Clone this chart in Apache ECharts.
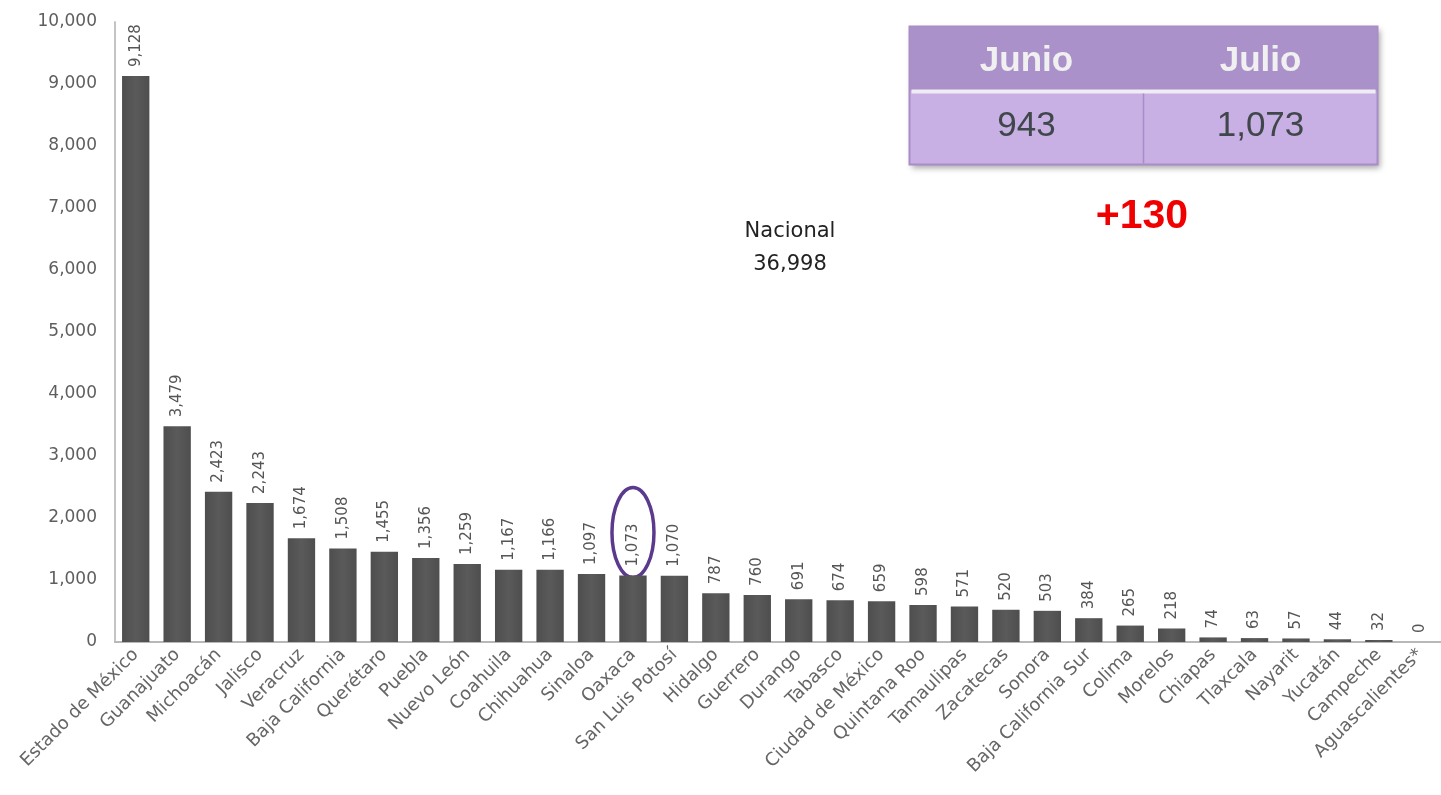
<!DOCTYPE html>
<html>
<head>
<meta charset="utf-8">
<script src="https://cdn.jsdelivr.net/npm/echarts@6/dist/echarts.min.js"></script>
<style>
  html, body { margin: 0; padding: 0; background: #fff; }
  #bar { width: 1441px; height: 795px; }
</style>
</head>
<body>
<div id="bar"></div>
<script>
// 数据
var estados = ['Estado de México', 'Guanajuato', 'Michoacán', 'Jalisco', 'Veracruz', 'Baja California',
    'Querétaro', 'Puebla', 'Nuevo León', 'Coahuila', 'Chihuahua', 'Sinaloa', 'Oaxaca', 'San Luis Potosí',
    'Hidalgo', 'Guerrero', 'Durango', 'Tabasco', 'Ciudad de México', 'Quintana Roo', 'Tamaulipas',
    'Zacatecas', 'Sonora', 'Baja California Sur', 'Colima', 'Morelos', 'Chiapas', 'Tlaxcala', 'Nayarit',
    'Yucatán', 'Campeche', 'Aguascalientes*'];
var casos = [9128, 3479, 2423, 2243, 1674, 1508, 1455, 1356, 1259, 1167, 1166, 1097, 1073, 1070,
    787, 760, 691, 674, 659, 598, 571, 520, 503, 384, 265, 218, 74, 63, 57, 44, 32, 0];
var yTicks = [0, 1000, 2000, 3000, 4000, 5000, 6000, 7000, 8000, 9000, 10000];
var meses = ['Junio', 'Julio'];
var mesValores = [943, 1073];
var diferencia = '+130';
var nacional = '36,998';

var font = 'DejaVu Sans';
var myChart = echarts.init(document.getElementById('bar'));

var option = {
    animation: false,
    grid: { left: 115, right: 0, top: 22, bottom: 153 },
    xAxis: {
        type: 'category',
        data: estados,
        axisLine: { lineStyle: { color: '#b8b8b8', width: 2 } },
        axisTick: { show: false },
        axisLabel: {
            interval: 0,
            rotate: 45,
            margin: 10,
            color: '#666',
            fontSize: 18,
            fontFamily: font
        }
    },
    yAxis: {
        type: 'value',
        min: yTicks[0],
        max: yTicks[yTicks.length - 1],
        interval: 1000,
        axisLine: { show: true, lineStyle: { color: '#c4c4c4', width: 2 } },
        axisTick: { show: false },
        splitLine: { show: false },
        axisLabel: {
            margin: 18,
            color: '#5e5e5e',
            fontSize: 17,
            fontFamily: font,
            formatter: function (v) { return v.toLocaleString('en-US'); }
        }
    },
    series: [{
        type: 'bar',
        data: casos,
        barCategoryGap: '34%',
        itemStyle: {
            color: new echarts.graphic.LinearGradient(0, 0, 1, 0, [
                { offset: 0, color: '#4e4e4e' },
                { offset: 0.5, color: '#5a5a5a' },
                { offset: 1, color: '#4e4e4e' }
            ])
        },
        label: {
            show: true,
            position: 'top',
            rotate: 90,
            align: 'left',
            verticalAlign: 'middle',
            distance: 9,
            color: '#555',
            fontSize: 15,
            fontFamily: font,
            formatter: function (p) { return p.value.toLocaleString('en-US'); }
        }
    }],
    graphic: [
        // 表格
        {
            type: 'group', left: 907, top: 24,
            children: [
                { type: 'rect', shape: { x: 0, y: 0, width: 468, height: 138 },
                  style: { fill: '#c8afe4', shadowBlur: 6, shadowOffsetX: 2, shadowOffsetY: 3, shadowColor: 'rgba(0,0,0,0.35)' } },
                { type: 'rect', shape: { x: 0, y: 0, width: 468, height: 64 }, style: { fill: '#ab91c9' } },
                { type: 'rect', shape: { x: 2, y: 63, width: 464, height: 4 }, style: { fill: '#f0ecf4' } },
                { type: 'line', shape: { x1: 234, y1: 67, x2: 234, y2: 137 }, style: { stroke: '#a98dc8', lineWidth: 1.5 } },
                { type: 'rect', shape: { x: 0, y: 0, width: 468, height: 138 }, style: { fill: 'none', stroke: '#a98dc8', lineWidth: 2 } },
                { type: 'text', x: 117, y: 35, style: { text: meses[0], fill: '#f0f0f0', font: 'bold 35px Liberation Sans', align: 'center', verticalAlign: 'middle' } },
                { type: 'text', x: 351, y: 35, style: { text: meses[1], fill: '#f0f0f0', font: 'bold 35px Liberation Sans', align: 'center', verticalAlign: 'middle' } },
                { type: 'text', x: 117, y: 100, style: { text: mesValores[0].toLocaleString('en-US'), fill: '#40474a', font: '35px Liberation Sans', align: 'center', verticalAlign: 'middle' } },
                { type: 'text', x: 351, y: 100, style: { text: mesValores[1].toLocaleString('en-US'), fill: '#40474a', font: '35px Liberation Sans', align: 'center', verticalAlign: 'middle' } }
            ]
        },
        { type: 'text', x: 1142, y: 217, style: { text: diferencia, fill: '#f00000', font: 'bold 41px Liberation Sans', align: 'center', verticalAlign: 'middle' } },
        { type: 'text', x: 790, y: 248, style: { text: 'Nacional\n' + nacional, fill: '#222', font: '500 21px DejaVu Sans', align: 'center', verticalAlign: 'middle', lineHeight: 33 } }
    ]
};

myChart.setOption(option);

// 圈出 Oaxaca 的标签
var p = myChart.convertToPixel({ seriesIndex: 0 }, ['Oaxaca', 1073]);
myChart.setOption({
    graphic: option.graphic.concat([{
        type: 'ellipse',
        shape: { cx: p[0], cy: p[1] - 43, rx: 21, ry: 45 },
        style: { fill: 'none', stroke: '#5b3a8e', lineWidth: 3.5 }
    }])
});
</script>
</body>
</html>
